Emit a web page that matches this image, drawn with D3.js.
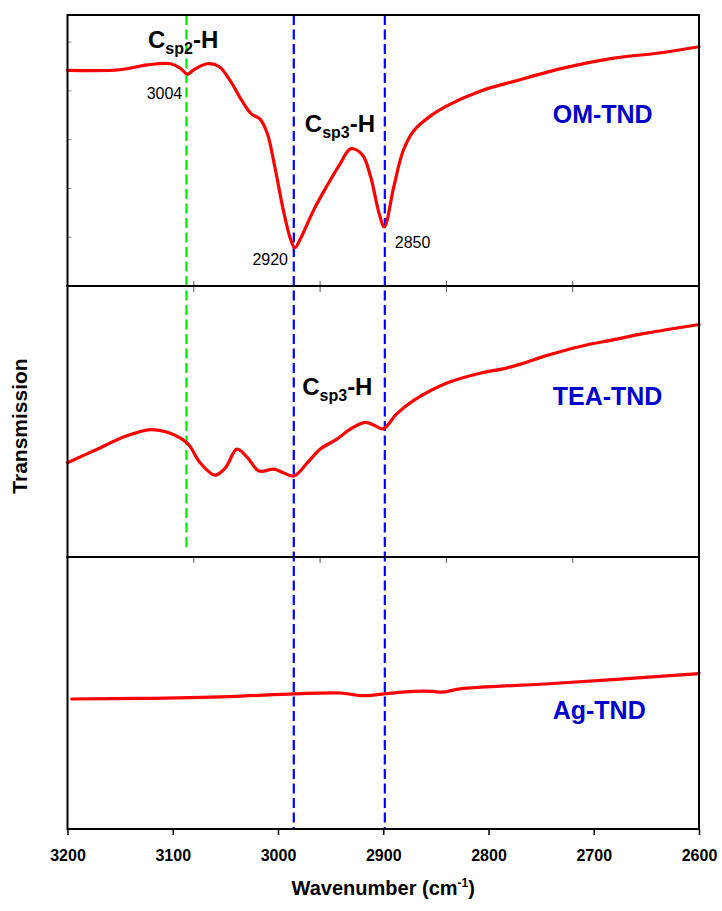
<!DOCTYPE html>
<html>
<head>
<meta charset="utf-8">
<script src="https://cdn.jsdelivr.net/npm/d3@7"></script>
<style>
  body { margin: 0; background: #fff; }
  text { font-family: Arial, "Liberation Sans", sans-serif; }
</style>
</head>
<body>
<script>
// OM-TND spectrum (wavenumber, transmission in panel units 0-100)
const omWave = [3200, 3150, 3124, 3102, 3093, 3086, 3080, 3067, 3056, 3045, 3034, 3025, 3017, 3010, 3003, 2995, 2988, 2984, 2979, 2966, 2954, 2941, 2931, 2920, 2912, 2904, 2899, 2890, 2881, 2871, 2855, 2840, 2808, 2776, 2729, 2681, 2640, 2600];
const omT = [79.6, 79.8, 81.6, 82.0, 80.4, 78.2, 79.8, 82.0, 81.0, 75.5, 68.2, 63.4, 61.6, 56.1, 43.9, 28.1, 17.2, 14.1, 17.2, 28.1, 36.6, 45.1, 50.6, 48.5, 40.3, 26.9, 21.8, 36.6, 50.0, 57.3, 62.8, 66.4, 71.9, 75.5, 80.4, 84.1, 85.9, 88.3];

// TEA-TND spectrum
const teaWave = [3200, 3175, 3143, 3121, 3105, 3086, 3074, 3060, 3050, 3039, 3029, 3018, 3004, 2995, 2985, 2972, 2960, 2944, 2931, 2917, 2908, 2900, 2887, 2871, 2840, 2808, 2783, 2767, 2745, 2713, 2681, 2650, 2600];
const teaT = [34.8, 39.2, 44.8, 47.0, 46.0, 41.9, 34.8, 30.2, 32.9, 39.8, 36.7, 31.7, 32.4, 31.1, 29.9, 34.8, 39.8, 43.5, 47.3, 49.7, 48.5, 47.3, 52.9, 57.8, 64.1, 67.8, 69.7, 71.5, 74.3, 77.7, 80.2, 82.6, 85.8];

// Ag-TND spectrum
const agWave = [3196, 3134, 3046, 2985, 2941, 2919, 2901, 2871, 2853, 2844, 2827, 2739, 2600];
const agT = [47.8, 48.0, 48.7, 49.7, 50.0, 49.0, 49.6, 50.6, 50.6, 50.3, 51.5, 53.5, 57.1];

const xTicks = [3200, 3100, 3000, 2900, 2800, 2700, 2600];
const innerTicks = [3080, 2960, 2840, 2720];
const topLeftTicks = [18, 36, 54, 72, 90];

// marker lines
const greenLine = 3087;
const blueLines = [2985, 2898.5];

const W = 722, H = 911;
const left = 67.5, right = 699;
const panelTops = [15, 286, 557];
const panelBottoms = [286, 557, 829];

const svg = d3.select("body").append("svg")
    .attr("width", W)
    .attr("height", H);

const x = d3.scaleLinear().domain([3200, 2600]).range([left, right]);
const ys = panelTops.map((t, i) => d3.scaleLinear().domain([0, 100]).range([panelBottoms[i], t]));

const line = (yScale) => d3.line()
    .x(d => x(d[0]))
    .y(d => yScale(d[1]))
    .curve(d3.curveCatmullRom.alpha(0.5));

// dashed marker lines
svg.append("line")
    .attr("x1", x(greenLine)).attr("x2", x(greenLine))
    .attr("y1", panelTops[0]).attr("y2", 550)
    .attr("stroke", "#00ee00")
    .attr("stroke-width", 2.2)
    .attr("stroke-dasharray", "10,4.5");

svg.selectAll(".blue")
    .data(blueLines)
    .enter()
    .append("line")
    .attr("x1", d => x(d)).attr("x2", d => x(d))
    .attr("y1", panelTops[0]).attr("y2", panelBottoms[2])
    .attr("stroke", "#0000ff")
    .attr("stroke-width", 2.2)
    .attr("stroke-dasharray", "10,4.5");

// spectra
const series = [
    [omWave, omT],
    [teaWave, teaT],
    [agWave, agT]
];
series.forEach((s, i) => {
    const pts = s[0].map((w, j) => [w, s[1][j]]);
    svg.append("path")
        .datum(pts)
        .attr("fill", "none")
        .attr("stroke", "#ff0000")
        .attr("stroke-width", 3.2)
        .attr("stroke-linejoin", "round")
        .attr("stroke-linecap", "round")
        .attr("d", line(ys[i]));
});

// small inner ticks
svg.selectAll(".tUp")
    .data(innerTicks)
    .enter()
    .append("line")
    .attr("x1", d => x(d)).attr("x2", d => x(d))
    .attr("y1", panelBottoms[0]).attr("y2", panelBottoms[0] - 5)
    .attr("stroke", "#555").attr("stroke-width", 1);

[panelTops[1], panelTops[2]].forEach(t => {
    svg.selectAll(null)
        .data(innerTicks)
        .enter()
        .append("line")
        .attr("x1", d => x(d)).attr("x2", d => x(d))
        .attr("y1", t).attr("y2", t + 6)
        .attr("stroke", "#555").attr("stroke-width", 1);
});

svg.selectAll(".tLeft")
    .data(topLeftTicks)
    .enter()
    .append("line")
    .attr("x1", left).attr("x2", left + 4)
    .attr("y1", d => ys[0](d)).attr("y2", d => ys[0](d))
    .attr("stroke", "#888").attr("stroke-width", 1);

// panel frames
panelTops.forEach((t, i) => {
    svg.append("rect")
        .attr("x", left).attr("y", t)
        .attr("width", right - left)
        .attr("height", panelBottoms[i] - t)
        .attr("fill", "none")
        .attr("stroke", "#000")
        .attr("stroke-width", 2);
});

// bottom axis
const xAxis = d3.axisBottom(x)
    .tickValues(xTicks)
    .tickSize(6)
    .tickSizeOuter(0)
    .tickFormat(d3.format("d"));

const gx = svg.append("g")
    .attr("transform", `translate(0,${panelBottoms[2]})`)
    .call(xAxis);
gx.select(".domain").remove();
gx.selectAll(".tick line").attr("stroke", "#000").attr("stroke-width", 1.5);
gx.selectAll(".tick text")
    .attr("dy", 0)
    .attr("y", 32)
    .attr("font-size", 16)
    .attr("font-weight", "bold")
    .attr("font-family", "Arial, 'Liberation Sans', sans-serif")
    .attr("fill", "#000");

// axis titles
const xt = svg.append("text")
    .attr("x", (left + right) / 2)
    .attr("y", 895)
    .attr("text-anchor", "middle")
    .attr("font-size", 20)
    .attr("font-weight", "bold");
xt.append("tspan").text("Wavenumber (cm");
xt.append("tspan").attr("font-size", 12).attr("dy", -8).text("-1");
xt.append("tspan").attr("dy", 8).text(")");

svg.append("text")
    .attr("transform", "translate(27,426) rotate(-90)")
    .attr("text-anchor", "middle")
    .attr("font-size", 21)
    .attr("font-weight", "bold")
    .text("Transmission");

// bond labels
function bondLabel(wx, py, sub) {
    const t = svg.append("text")
        .attr("x", x(wx))
        .attr("y", py)
        .attr("font-size", 24)
        .attr("font-weight", "bold")
        .attr("fill", "#000");
    t.append("tspan").text("C");
    t.append("tspan").attr("font-size", 16).attr("dy", 6).text(sub);
    t.append("tspan").attr("dy", -6).text("-H");
}
bondLabel(3123.5, ys[0](88), "sp2");
bondLabel(2974.5, ys[0](56.8), "sp3");
bondLabel(2977, ys[1](59.8), "sp3");

// peak numbers
const peakLabels = [
    { w: 3091, v: 69, text: "3004", anchor: "end" },
    { w: 2990.5, v: 7.7, text: "2920", anchor: "end" },
    { w: 2889, v: 14, text: "2850", anchor: "start" }
];
svg.selectAll(".peak")
    .data(peakLabels)
    .enter()
    .append("text")
    .attr("x", d => x(d.w))
    .attr("y", d => ys[0](d.v))
    .attr("text-anchor", d => d.anchor)
    .attr("font-size", 16)
    .attr("fill", "#000")
    .text(d => d.text);

// sample names
const names = ["OM-TND", "TEA-TND", "Ag-TND"];
const nameV = [60, 56, 40.4];
names.forEach((n, i) => {
    svg.append("text")
        .attr("x", x(2739))
        .attr("y", ys[i](nameV[i]))
        .attr("font-size", 25)
        .attr("font-weight", "bold")
        .attr("fill", "#0000cc")
        .text(n);
});
</script>
</body>
</html>
